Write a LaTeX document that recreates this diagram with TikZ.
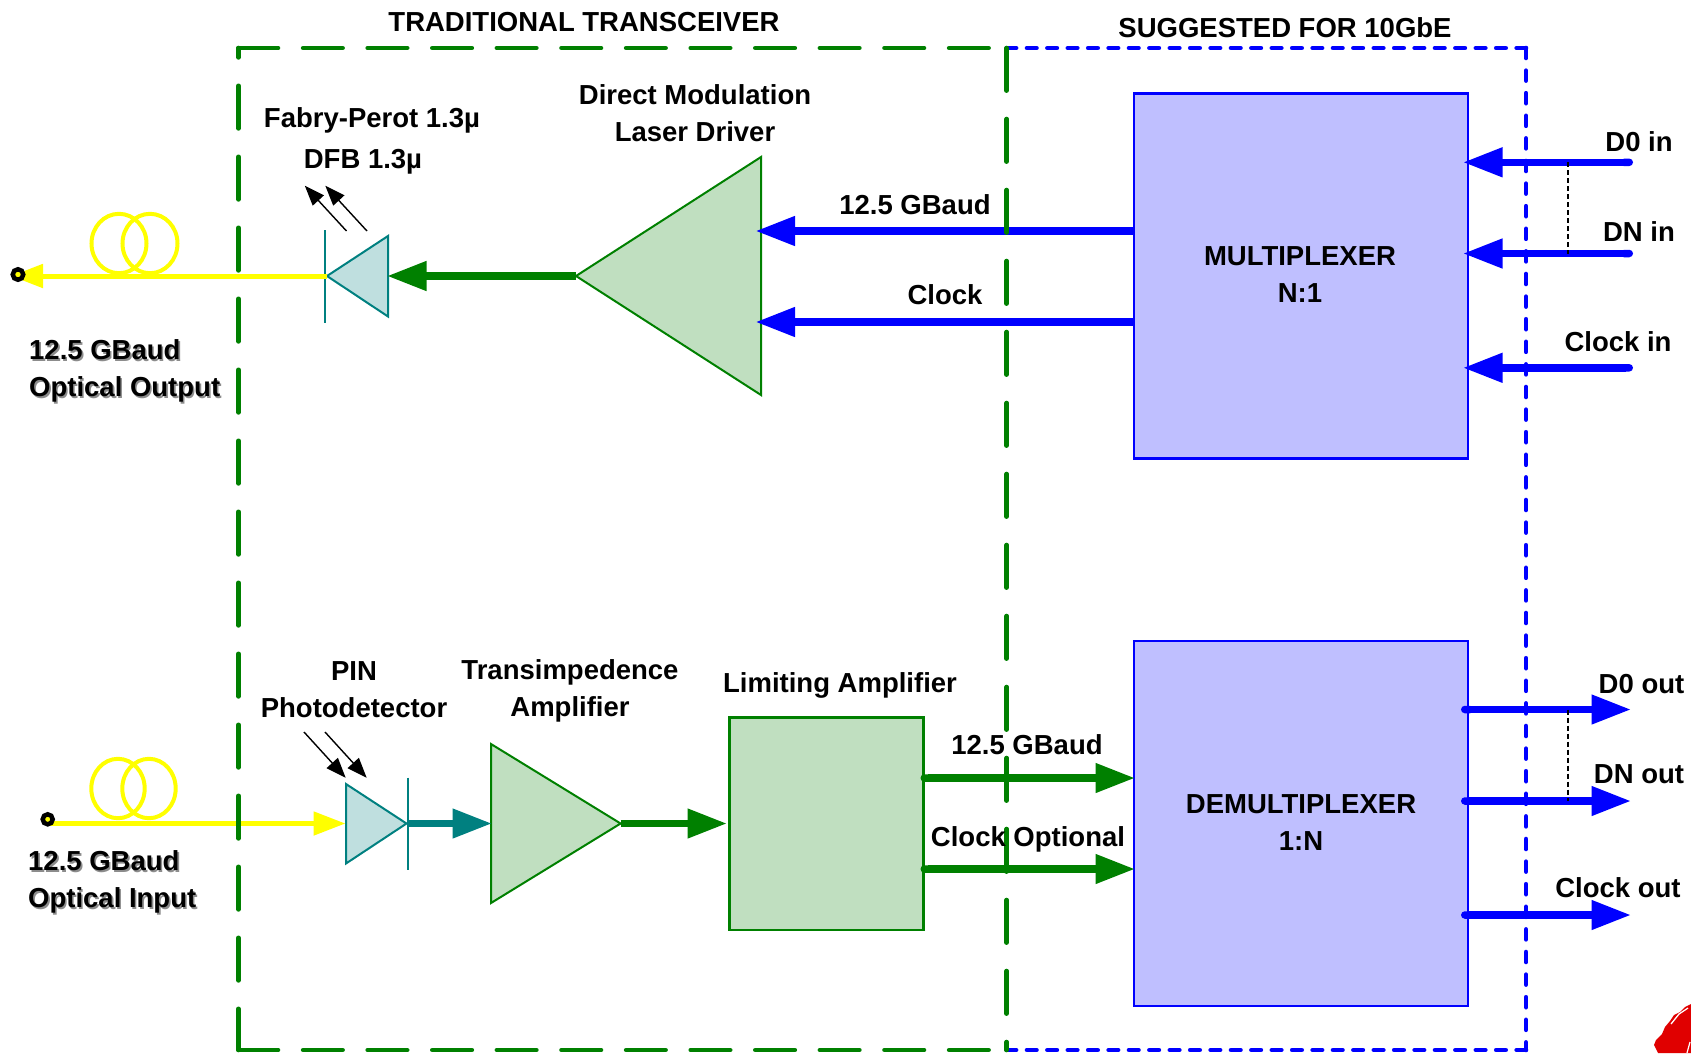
\documentclass[tikz,border=0pt]{standalone}
\usepackage{fontspec}
\setmainfont{Liberation Sans}
\usetikzlibrary{arrows.meta,calc}
\definecolor{cGreen}{HTML}{008000}
\definecolor{cBlue}{HTML}{0000FF}
\definecolor{cYellow}{HTML}{FFFF00}
\definecolor{cTeal}{HTML}{008080}
\definecolor{fGreen}{HTML}{C0DFC0}
\definecolor{fBlue}{HTML}{BFBFFF}
\definecolor{fTeal}{HTML}{BFDFDF}
\definecolor{cRed}{HTML}{E00000}
\newcommand\shad[1]{\leavevmode\rlap{\hspace{1.6pt}\raisebox{-1.6pt}{\textcolor{black!45}{#1}}}#1}
\tikzset{
  lbl/.style={inner sep=0pt,font=\fontsize{27.5}{37}\selectfont\bfseries,align=center},
  lblL/.style={lbl,align=left,anchor=west},
  bigbox/.style={draw=cBlue,fill=fBlue,line width=2.6pt,inner sep=0pt,minimum width=334pt,minimum height=365pt},
  ampshape/.style={draw=cGreen,fill=fGreen,line width=2pt,line join=miter},
  diodeshape/.style={draw=cTeal,fill=fTeal,line width=2pt,line join=miter},
  diodebar/.style={draw=cTeal,line width=2pt},
  bluearrow/.style={draw=cBlue,line width=7.5pt,shorten >=-2pt,{Round Cap[]}-{Triangle[length=39.5pt,width=28pt]}},
  blueplain/.style={draw=cBlue,line width=7.5pt,shorten >=-2pt,-{Triangle[length=39.5pt,width=28pt]}},
  greenarrow/.style={draw=cGreen,line width=7.5pt,shorten >=-2pt,-{Triangle[length=39.5pt,width=28pt]}},
  greenround/.style={draw=cGreen,line width=7.5pt,shorten >=-2pt,{Round Cap[]}-{Triangle[length=39.5pt,width=28pt]}},
  tealarrow/.style={draw=cTeal,line width=7.5pt,shorten >=-2pt,-{Triangle[length=39.5pt,width=28pt]}},
  yellowarrow/.style={draw=cYellow,line width=5pt,shorten >=-2pt,-{Triangle[length=32pt,width=23pt]}},
  coil/.style={draw=cYellow,line width=4pt},
  lightarrow/.style={draw=black,line width=1.4pt,shorten >=-1pt,-{Triangle[length=20pt,width=15pt]}},
  groupline/.style={draw=black,line width=1.3pt,dash pattern=on 5pt off 3pt},
  terminal/.style={circle,draw=black,fill=cYellow,inner sep=0pt,line width=4.5pt},
  gH/.style={draw=cGreen,line width=4.6pt,line cap=round,dash pattern=on 39.5pt off 25.1pt},
  gV/.style={draw=cGreen,line width=4.6pt,line cap=round,dash pattern=on 42.6pt off 28.4pt},
  bH/.style={draw=cBlue,line width=4.6pt,line cap=round,dash pattern=on 9.5pt off 10.9pt},
  bV/.style={draw=cBlue,line width=4.6pt,line cap=round,dash pattern=on 10pt off 12.6pt},
}
\begin{document}
\begin{tikzpicture}[x=1pt,y=-1pt]
\useasboundingbox (0,0) rectangle (1691,1053);
% corner coordinates of the two dashed regions
\coordinate (gTL) at (238.5,48);
\coordinate (gBL) at (238.5,1050);
\coordinate (mTop) at (1006.6,48);
\coordinate (mBot) at (1006.6,1050);
\coordinate (bTR) at (1526,48);
\coordinate (bBR) at (1526,1050);
% blocks
\node[bigbox] (mux) at (1301,276) {};
\node[bigbox] (demux) at (1301,823.5) {};
\node[draw=cGreen,fill=fGreen,line width=2.4pt,minimum width=194pt,minimum height=212.5pt,inner sep=0pt] (limamp) at (826.5,823.7) {};
% laser driver
\coordinate (ldApex) at (576,276);
\coordinate (ldTop) at (761,157);
\coordinate (ldBot) at (761,395);
\coordinate (ldIn1) at (757.5,231);
\coordinate (ldIn2) at (757.5,322);
\draw[ampshape] (ldApex) -- (ldTop) -- (ldBot) -- cycle;
% laser diode
\coordinate (ledTip) at (327,276);
\coordinate (ledTop) at (388,236);
\coordinate (ledBot) at (388,316.5);
\coordinate (ledIn) at (389,276);
\coordinate (ledBarA) at (325,230);
\coordinate (ledBarB) at (325,323);
\draw[diodeshape] (ledTip) -- (ledTop) -- (ledBot) -- cycle;
\draw[diodebar] (ledBarA) -- (ledBarB);
% photodiode
\coordinate (pdIn) at (343.5,823.5);
\coordinate (pdTop) at (346,784);
\coordinate (pdBot) at (346,863.5);
\coordinate (pdTip) at (406.5,823.5);
\coordinate (pdBarA) at (408,777.5);
\coordinate (pdBarB) at (408,870);
\draw[diodeshape] (pdTop) -- (pdTip) -- (pdBot) -- cycle;
\draw[diodebar] (pdBarA) -- (pdBarB);
% TIA
\coordinate (tiaIn) at (490,823.5);
\coordinate (tiaTop) at (491,744);
\coordinate (tiaBot) at (491,903);
\coordinate (tiaTip) at (620.6,823.5);
\draw[ampshape] (tiaTop) -- (tiaTip) -- (tiaBot) -- cycle;
% fibre coils
\coordinate (coilA1) at (119,243.5);
\coordinate (coilA2) at (150,243.5);
\coordinate (coilB1) at (118,788.5);
\coordinate (coilB2) at (149,788.5);
\draw[coil] (coilA1) ellipse [x radius=27.5pt,y radius=29.7pt];
\draw[coil] (coilA2) ellipse [x radius=27.5pt,y radius=29.7pt];
\draw[coil] (coilB1) ellipse [x radius=26.7pt,y radius=29.7pt];
\draw[coil] (coilB2) ellipse [x radius=26.7pt,y radius=29.7pt];
% optical arrows
\coordinate (outTip) at (13,276);
\coordinate (inStart) at (50,823.5);
\draw[yellowarrow] (ledTip) -- (outTip);
\draw[yellowarrow] (inStart) -- (pdIn);
\node[terminal,minimum size=10.5pt] (outTerm) at (18,274.5) {};
\node[terminal,minimum size=10pt] (inTerm) at (47.7,819.3) {};
% electrical arrows, laser side
\draw[greenarrow] (ldApex) -- (ledIn);
\draw[blueplain] (mux.west |- ldIn1) -- (ldIn1);
\draw[blueplain] (mux.west |- ldIn2) -- (ldIn2);
% mux inputs
\coordinate (d0inS) at (1633,162.3);
\coordinate (dninS) at (1633,253.5);
\coordinate (ckinS) at (1633,367.8);
\coordinate (d0inE) at (1465,162.3);
\coordinate (dninE) at (1465,253.5);
\coordinate (ckinE) at (1465,367.8);
\draw[bluearrow] (d0inS) -- (d0inE);
\draw[bluearrow] (dninS) -- (dninE);
\draw[bluearrow] (ckinS) -- (ckinE);
% receiver chain
\draw[tealarrow] (pdTip) -- (tiaIn);
\coordinate (laIn) at (725,823.5);
\draw[greenarrow] (tiaTip) -- (laIn);
\coordinate (la1S) at (920.5,778);
\coordinate (la2S) at (920.5,869);
\coordinate (la1E) at (1133,778);
\coordinate (la2E) at (1133,869);
\draw[greenround] (la1S) -- (la1E);
\draw[greenround] (la2S) -- (la2E);
% demux outputs
\coordinate (d0oS) at (1461,709.5);
\coordinate (dnoS) at (1461,801);
\coordinate (ckoS) at (1461,915);
\coordinate (d0oE) at (1629,709.5);
\coordinate (dnoE) at (1629,801);
\coordinate (ckoE) at (1629,915);
\draw[bluearrow] (d0oS) -- (d0oE);
\draw[bluearrow] (dnoS) -- (dnoE);
\draw[bluearrow] (ckoS) -- (ckoE);
% dashed regions
\draw[bH] (mTop) -- (bTR);
\draw[bH] (mBot) -- (bBR);
\draw[bV] (bTR) -- (bBR);
\draw[gH] (gTL) -- (mTop);
\draw[gH] (gBL) -- (mBot);
\draw[gV,dash phase=1.4pt] (gBL) -- (gTL);
\draw[gV] (mTop) -- (mBot);
% bus markers
\coordinate (g1A) at (1568,162.3);
\coordinate (g1B) at (1568,253.5);
\coordinate (g2A) at (1568,709.5);
\coordinate (g2B) at (1568,801);
\draw[groupline] (g1A) -- (g1B);
\draw[groupline] (g2A) -- (g2B);
% light arrows
\coordinate (l1A) at (346.5,231);
\coordinate (l1B) at (305.5,186.5);
\coordinate (l2A) at (367,231);
\coordinate (l2B) at (326,186.5);
\coordinate (l3A) at (304,732);
\coordinate (l3B) at (345,777);
\coordinate (l4A) at (325,732);
\coordinate (l4B) at (366,777);
\draw[lightarrow] (l1A) -- (l1B);
\draw[lightarrow] (l2A) -- (l2B);
\draw[lightarrow] (l3A) -- (l3B);
\draw[lightarrow] (l4A) -- (l4B);
% labels
\node[lbl] (tTrad) at (584,22) {TRADITIONAL TRANSCEIVER};
\node[lbl] (tSugg) at (1285,28) {SUGGESTED FOR 10GbE};
\node[lbl] (tDrv) at (695,113) {Direct Modulation\\Laser Driver};
\node[lbl] (tFab) at (372,120) {Fabry-Perot 1.3µ};
\node[lbl] (tDfb) at (363,162) {DFB 1.3µ};
\node[lbl] (tTop1) at (915,204.5) {12.5 GBaud};
\node[lbl] (tTop2) at (945,295) {Clock};
\node[lbl] (tMux) at (1300,275) {MULTIPLEXER\\N:1};
\node[lbl] (tD0i) at (1639,142) {D0 in};
\node[lbl] (tDni) at (1639,232) {DN in};
\node[lbl] (tCki) at (1618,342) {Clock in};
\node[lblL] (tOut) at (29,372) {\shad{12.5 GBaud}\\\shad{Optical Output}};
\node[lblL] (tIn) at (28,883) {\shad{12.5 GBaud}\\\shad{Optical Input}};
\node[lbl] (tPin) at (354,689.5) {PIN\\Photodetector};
\node[lbl] (tTia) at (570,691) {Transimpedence\\Amplifier};
\node[lbl] (tLim) at (840,685) {Limiting Amplifier};
\node[lbl] (tBot1) at (1027,745) {12.5 GBaud};
\node[lbl] (tBot2) at (1028,839) {Clock Optional};
\node[lbl] (tDem) at (1301,823) {DEMULTIPLEXER\\1:N};
\node[lbl] (tD0o) at (1641.5,684) {D0 out};
\node[lbl] (tDno) at (1639,774) {DN out};
\node[lbl] (tCko) at (1618,888) {Clock out};
% red corner mark
\fill[cRed] (1691,1004) -- (1685,1007) -- (1680,1012) -- (1674,1015) -- (1670,1021) -- (1665,1027) -- (1662,1034) -- (1656,1040) -- (1654,1045) -- (1658,1053) -- (1691,1053) -- cycle;
\draw[white,line width=1.3pt] (1688,1008) -- (1679,1014) -- (1671,1024);
\draw[white,line width=1.2pt] (1690,1042) -- (1687,1053);
\end{tikzpicture}
\end{document}
